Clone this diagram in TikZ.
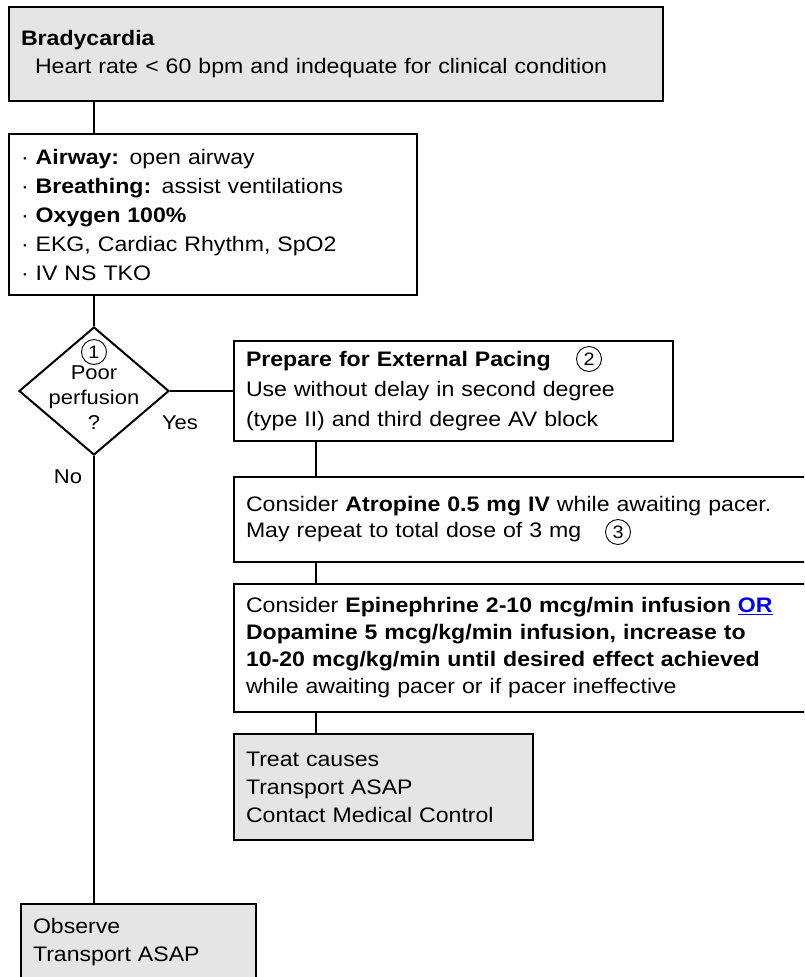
\documentclass[tikz,border=0pt]{standalone}
\usepackage{fontspec}
\setmainfont{Liberation Sans}[FakeStretch=1.1]
\usetikzlibrary{shapes.geometric}
\definecolor{boxgray}{RGB}{229,229,229}
\definecolor{linkblue}{RGB}{0,0,230}
\newcommand{\ul}[1]{\underline{#1}}

\begin{document}
\begin{tikzpicture}[x=1pt,y=-1pt,line width=1.5pt,font=\fontsize{21}{28}\selectfont]
\tikzstyle{step box} = [draw,line width=2pt,anchor=north west,align=left,inner xsep=12pt,inner ysep=0pt,fill=white]
\tikzstyle{gray box} = [step box,fill=boxgray]
\tikzstyle{num circle} = [circle,draw,line width=0.9pt,inner sep=1.5pt,minimum size=25pt,font=\fontsize{18}{18}\selectfont]
%\tikzstyle{every node}=[font \small]

\clip (0,0) rectangle (804,977);

% boxes
\node[gray box,text width=630,minimum height=94] (brady) at (8,6) {\textbf{Bradycardia}\\\hspace*{14pt}Heart rate < 60 bpm and indequate for clinical condition};
\node[step box,text width=384,minimum height=161,font=\fontsize{21}{29}\selectfont] (abc) at (8,133) {· \textbf{Airway:} open airway\\· \textbf{Breathing:} assist ventilations\\· \textbf{Oxygen 100\%}\\· EKG, Cardiac Rhythm, SpO2\\· IV NS TKO};

\node[diamond,draw,line width=2pt,minimum width=150,minimum height=128,inner sep=0pt] (perf) at (94,391) {};
\node[num circle] (one) at (94,352) {1};
\node[align=center,font=\fontsize{20}{25}\selectfont] (perftext) at (94,398) {Poor\\perfusion\\?};

\node[step box,text width=415,minimum height=100,font=\fontsize{21}{30}\selectfont] (pacing) at (233,340) {\textbf{Prepare for External Pacing}\\Use without delay in second degree\\(type II) and third degree AV block};
\node[num circle] (two) at (589,359) {2};
\node[step box,text width=600,minimum height=85,font=\fontsize{21}{26}\selectfont] (atropine) at (233,476) {Consider \textbf{Atropine 0.5 mg IV} while awaiting pacer.\\May repeat to total dose of 3 mg};
\node[num circle] (three) at (618,532) {3};
\node[step box,text width=600,minimum height=128,font=\fontsize{21}{27}\selectfont] (pressor) at (233,583) {Consider \textbf{Epinephrine 2-10 mcg/min infusion} \textcolor{linkblue}{\textbf{\ul{OR}}}\\\textbf{Dopamine 5 mcg/kg/min infusion, increase to}\\\textbf{10-20 mcg/kg/min until desired effect achieved}\\while awaiting pacer or if pacer ineffective};
\node[gray box,text width=275,minimum height=106] (causes) at (233,733) {Treat causes\\Transport ASAP\\Contact Medical Control};
\node[gray box,text width=211,minimum height=76] (observe) at (20,903) {Observe\\Transport ASAP};

% labels
\node (yes) at (180,423) {\fontsize{20}{20}\selectfont Yes};
\node (no) at (68,477) {\fontsize{20}{20}\selectfont No};

% connectors
\coordinate (tap) at (316,0);
\draw (perf |- brady.south) -- (perf |- abc.north);
\draw (perf |- abc.south) -- (perf.north);
\draw (perf.east) -- (pacing.west |- perf.east);
\draw (perf.south) -- (perf |- observe.north);
\draw (tap |- pacing.south) -- (tap |- atropine.north);
\draw (tap |- atropine.south) -- (tap |- pressor.north);
\draw (tap |- pressor.south) -- (tap |- causes.north);
\end{tikzpicture}
\end{document}
